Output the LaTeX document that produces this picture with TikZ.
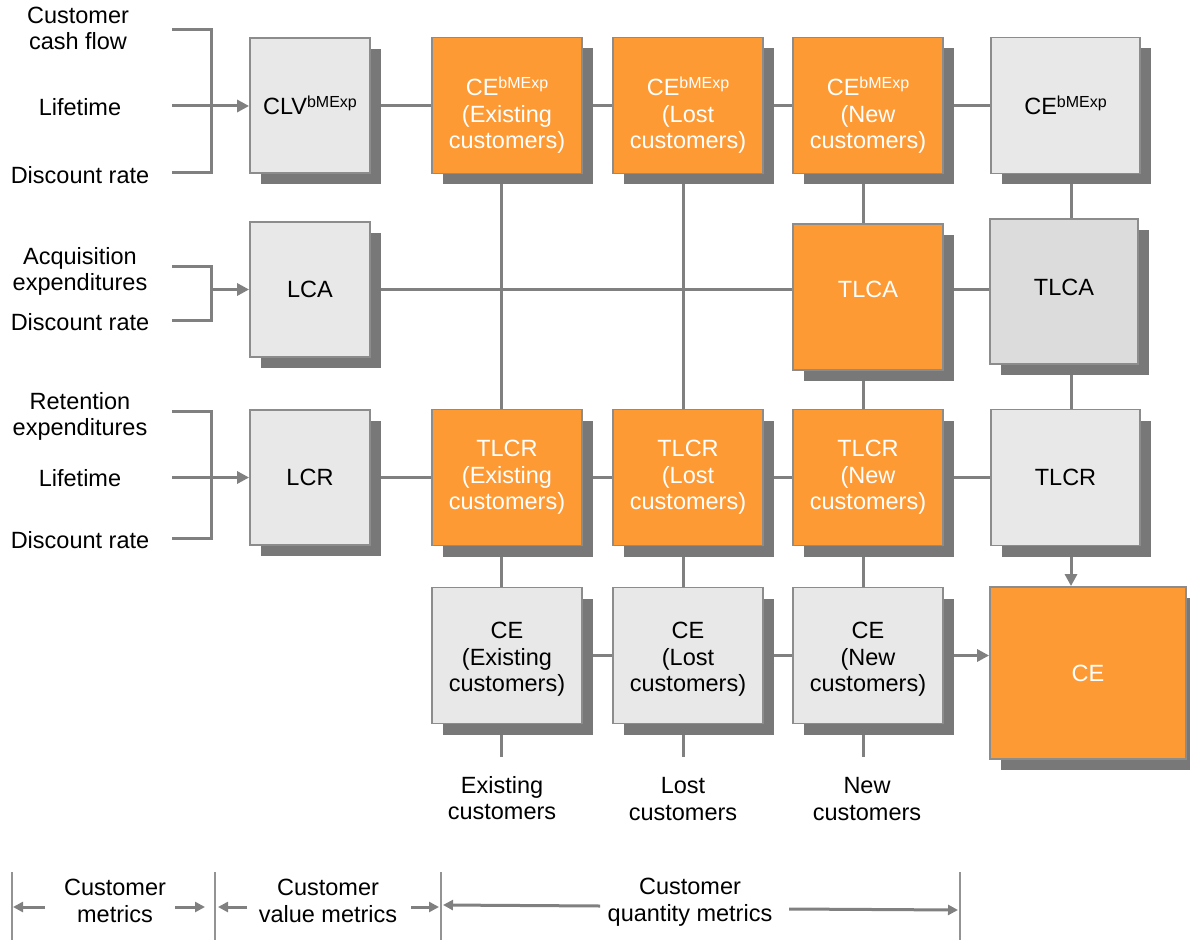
\documentclass[tikz,border=0pt]{standalone}
\usepackage{fontspec}
\setmainfont{Liberation Sans}
\usetikzlibrary{arrows.meta,shadows,backgrounds,calc}
\definecolor{lineg}{RGB}{128,128,128}
\definecolor{shadg}{RGB}{120,120,120}
\definecolor{bordg}{RGB}{140,140,140}
\definecolor{boxg}{RGB}{232,232,232}
\definecolor{boxd}{RGB}{220,220,220}
\definecolor{orng}{RGB}{254,154,52}
\newcommand\bme{\raisebox{7pt}{\fontsize{16}{16}\selectfont bMExp}}
\begin{document}
\begin{tikzpicture}[x=1pt,y=-1pt,
  every node/.style={font=\fontsize{23.5}{26.5}\selectfont, align=center, inner sep=0pt},
  box/.style={draw=bordg, line width=1.8pt, fill=boxg, minimum width=150pt, minimum height=136pt,
    drop shadow={shadow xshift=11pt, shadow yshift=-11pt, fill=shadg, opacity=1}},
  obox/.style={box, fill=orng, text=white},
  ln/.style={draw=lineg, line width=3pt},
  arr/.style={ln, -{Triangle[length=12pt,width=12pt]}},
  sarr/.style={ln, -{Triangle[length=10pt,width=10pt]}},
  lbl/.style={text=black},
  wtx/.style={text=white},
  btx/.style={text=black}
]
\useasboundingbox (0,0) rectangle (1190,941);

% ---- boxes ----
\node[box, minimum width=120pt, minimum height=135pt] (CLV) at (310,105.5) {CLV\bme};
\node[box, minimum width=120pt, minimum height=135pt] (LCA) at (310,289.5) {LCA};
\node[box, minimum width=120pt, minimum height=135pt] (LCR) at (310,477.5) {LCR};

\node[obox, label={[wtx, yshift=-10pt]center:CE\bme\\(Existing\\customers)}] (CEx1) at (507,105.5) {};
\node[obox, label={[wtx, yshift=-10pt]center:CE\bme\\(Lost\\customers)}] (CEL1) at (688,105.5) {};
\node[obox, label={[wtx, yshift=-10pt]center:CE\bme\\(New\\customers)}] (CEN1) at (868,105.5) {};
\node[box, minimum width=149pt] (CEg1) at (1065.5,105.5) {CE\bme};

\node[obox, minimum height=146pt, label={[wtx, yshift=8pt]center:TLCA}] (TLCAo) at (868,297) {};
\node[box, fill=boxd, minimum width=148pt, minimum height=145pt, label={[btx, yshift=4pt]center:TLCA}] (TLCAg) at (1064,291.5) {};

\node[obox] (TLCRx) at (507,477.5) {TLCR\\(Existing\\customers)};
\node[obox] (TLCRL) at (688,477.5) {TLCR\\(Lost\\customers)};
\node[obox] (TLCRN) at (868,477.5) {TLCR\\(New\\customers)};
\node[box, minimum width=149pt] (TLCRg) at (1065.5,477.5) {TLCR};

\node[box, label={[btx, yshift=-4pt]center:CE\\(Existing\\customers)}] (CEx4) at (507,655.5) {};
\node[box, label={[btx, yshift=-4pt]center:CE\\(Lost\\customers)}] (CEL4) at (688,655.5) {};
\node[box, label={[btx, yshift=-4pt]center:CE\\(New\\customers)}] (CEN4) at (868,655.5) {};
\node[obox, minimum width=196pt, minimum height=172pt] (CEbig) at (1088,673) {CE};

% ---- column coordinates ----
\coordinate (v1) at (501,0);
\coordinate (v2) at (683,0);
\coordinate (v3) at (863,0);
\coordinate (v4) at (1071,0);
\coordinate (stub) at (0,757);

\begin{scope}[on background layer]
  % row 1
  \draw[ln] (CLV) -- (CEx1);
  \draw[ln] (CEx1) -- (CEL1);
  \draw[ln] (CEL1) -- (CEN1);
  \draw[ln] (CEN1) -- (CEg1);
  % LCA row
  \draw[ln] (LCA) -- (LCA -| TLCAo);
  \draw[ln] (LCA -| TLCAo) -- (LCA -| TLCAg);
  % row 3
  \draw[ln] (LCR) -- (TLCRx);
  \draw[ln] (TLCRx) -- (TLCRL);
  \draw[ln] (TLCRL) -- (TLCRN);
  \draw[ln] (TLCRN) -- (TLCRg);
  % row 4
  \draw[ln] (CEx4) -- (CEL4);
  \draw[ln] (CEL4) -- (CEN4);
  \draw[arr] (CEN4) -- (CEN4 -| CEbig.west);
  % verticals
  \draw[ln] (CEx1 -| v1) -- (CEx4 -| v1) -- (stub -| v1);
  \draw[ln] (CEL1 -| v2) -- (CEL4 -| v2) -- (stub -| v2);
  \draw[ln] (CEN1 -| v3) -- (TLCAo -| v3) -- (CEN4 -| v3) -- (stub -| v3);
  \draw[ln] (CEg1 -| v4) -- (TLCAg -| v4) -- (TLCRg -| v4);
  \draw[arr] (TLCRg -| v4) -- (CEbig.north -| v4);
\end{scope}

% ---- left brackets ----
\coordinate (b1t) at (172,30);
\coordinate (b1b) at (172,173);
\coordinate (b1m) at (172,106);
\draw[ln] (b1t) -- (211,30) -- (211,173) -- (b1b);
\draw[arr] (b1m) -- (b1m -| CLV.west);

\coordinate (b2t) at (172,266);
\coordinate (b2b) at (172,320);
\coordinate (b2m) at (211,289.5);
\draw[ln] (b2t) -- (211,266) -- (211,320) -- (b2b);
\draw[arr] (b2m) -- (b2m -| LCA.west);

\coordinate (b3t) at (172,411);
\coordinate (b3b) at (172,538);
\coordinate (b3m) at (172,477.5);
\draw[ln] (b3t) -- (211,411) -- (211,538) -- (b3b);
\draw[arr] (b3m) -- (b3m -| LCR.west);

% ---- left labels ----
\node[lbl] (l1) at (78,28.5) {Customer\\cash flow};
\node[lbl] (l2) at (80,107) {Lifetime};
\node[lbl] (l3) at (80,175) {Discount rate};
\node[lbl] (l4) at (80,271.5) {Acquisition\\expenditures};
\node[lbl] (l5) at (80,322) {Discount rate};
\node[lbl] (l6) at (80,416.5) {Retention\\expenditures};
\node[lbl] (l7) at (80,478) {Lifetime};
\node[lbl] (l8) at (80,540) {Discount rate};

% ---- bottom labels ----
\node[lbl] (e1) at (502,798) {Existing\\customers};
\node[lbl] (e2) at (683,799) {Lost\\customers};
\node[lbl] (e3) at (867,799) {New\\customers};

% ---- bottom axis ----
\coordinate (a0t) at (12,872);  \coordinate (a0b) at (12,940);
\coordinate (a1t) at (215,872); \coordinate (a1b) at (215,940);
\coordinate (a2t) at (441,872); \coordinate (a2b) at (441,940);
\coordinate (a3t) at (960,872); \coordinate (a3b) at (960,940);
\draw[ln, line width=2.5pt, draw=lineg!85] (a0t) -- (a0b);
\draw[ln, line width=2.5pt, draw=lineg!85] (a1t) -- (a1b);
\draw[ln, line width=2.5pt, draw=lineg!85] (a2t) -- (a2b);
\draw[ln, line width=2.5pt, draw=lineg!85] (a3t) -- (a3b);

\coordinate (s1) at (45,907);  \coordinate (t1) at (13,907);
\coordinate (s2) at (175,907); \coordinate (t2) at (205,907);
\coordinate (s3) at (247,907); \coordinate (t3) at (218,907);
\coordinate (s4) at (411,907); \coordinate (t4) at (439,907);
\coordinate (s5) at (600,906); \coordinate (t5) at (443,905);
\coordinate (s6) at (789,909); \coordinate (t6) at (958,910);
\draw[sarr] (s1) -- (t1);
\draw[sarr] (s2) -- (t2);
\draw[sarr] (s3) -- (t3);
\draw[sarr] (s4) -- (t4);
\draw[sarr] (s5) -- (t5);
\draw[sarr] (s6) -- (t6);

\node[lbl] (m1) at (115,901) {Customer\\metrics};
\node[lbl] (m2) at (328,901) {Customer\\value metrics};
\node[lbl] (m3) at (690,902) {Customer\\quantity metrics};
\end{tikzpicture}
\end{document}
